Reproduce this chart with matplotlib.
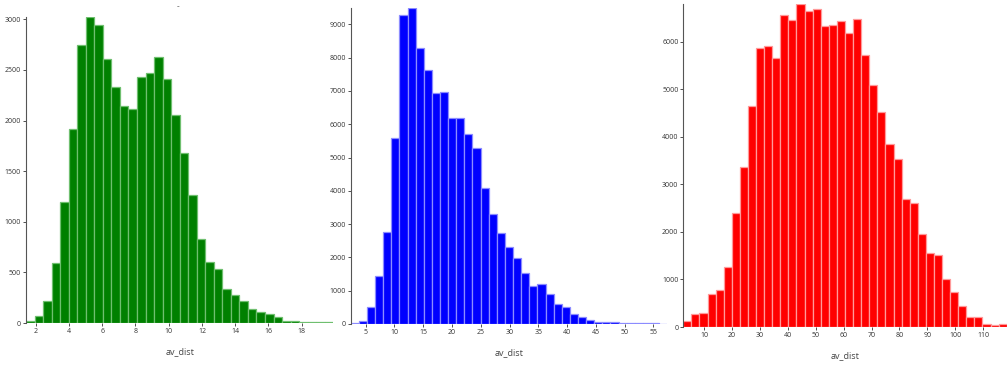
import matplotlib.pyplot as plt
import numpy as np

plt.rcParams['font.family'] = ['Open Sans', 'DejaVu Sans']

# histogram counts (three panels, same variable)
green_counts = [16, 66, 214, 591, 1196, 1912, 2747, 3023, 2941, 2613, 2327, 2143,
                2116, 2435, 2474, 2629, 2415, 2054, 1683, 1268, 825, 605, 532, 335,
                276, 220, 138, 108, 85, 59, 23, 20, 13, 6, 6, 6]
green_range = (1.42, 19.9)

blue_counts = [20, 100, 500, 1430, 2760, 5600, 9290, 9490, 8280, 7630, 6950, 6970,
               6190, 6190, 5720, 5290, 4090, 3300, 2720, 2300, 1980, 1520, 1150, 1210,
               900, 600, 500, 290, 210, 110, 70, 50, 50, 25, 20, 20, 20, 20, 15]
blue_range = (2.39, 57.4)

red_counts = [126, 267, 302, 703, 787, 1251, 2396, 3373, 4652, 5854, 5903, 5664,
              6564, 6451, 6789, 6641, 6676, 6318, 6346, 6430, 6170, 6479, 5713, 5088,
              4526, 3851, 3528, 2684, 2600, 1947, 1560, 1518, 1019, 738, 436, 211,
              211, 70, 42, 63]
red_range = (2.59, 118.4)

panels = [
    (green_counts, green_range, 'green', '#6fbf6f', np.arange(2, 19, 2),
     np.arange(0, 3001, 500), (26, 333.3, 17, 323)),
    (blue_counts, blue_range, 'blue', '#8c8cff', np.arange(5, 56, 5),
     np.arange(0, 9001, 1000), (350.7, 667.3, 8, 324)),
    (red_counts, red_range, 'red', '#ff9a9a', np.arange(10, 111, 10),
     np.arange(0, 6001, 1000), (683.3, 1006.7, 4, 327)),
]

W, H = 1008, 365
fig = plt.figure(figsize=(W / 100, H / 100), dpi=100)

for counts, (lo, hi), col, edge, xt, yt, (l, r, t, b) in panels:
    ax = fig.add_axes([l / W, 1 - b / H, (r - l) / W, (b - t) / H])
    counts = np.array(counts)
    edges = np.linspace(lo, hi, len(counts) + 1)
    ax.bar(edges[:-1], counts, width=np.diff(edges), align='edge', color=col,
           edgecolor=edge, linewidth=0.9)
    ax.set_xlim(lo, hi)
    ax.set_ylim(0, counts.max())
    ax.set_xticks(xt)
    ax.set_yticks(yt)
    for s in ['top', 'right', 'bottom']:
        ax.spines[s].set_visible(False)
    ax.spines['left'].set_color('#555555')
    ax.spines['left'].set_linewidth(0.8)
    ax.tick_params(labelsize=5, colors='#333333', length=2, width=0.6, pad=1.5)
    ax.set_xlabel('av_dist', fontsize=6.5, color='#444444', labelpad=9)

fig.text(178 / W, 1 - 7 / H, '-', fontsize=6, color='#333333', ha='center', va='center')

fig.savefig('out.png', dpi=100)
